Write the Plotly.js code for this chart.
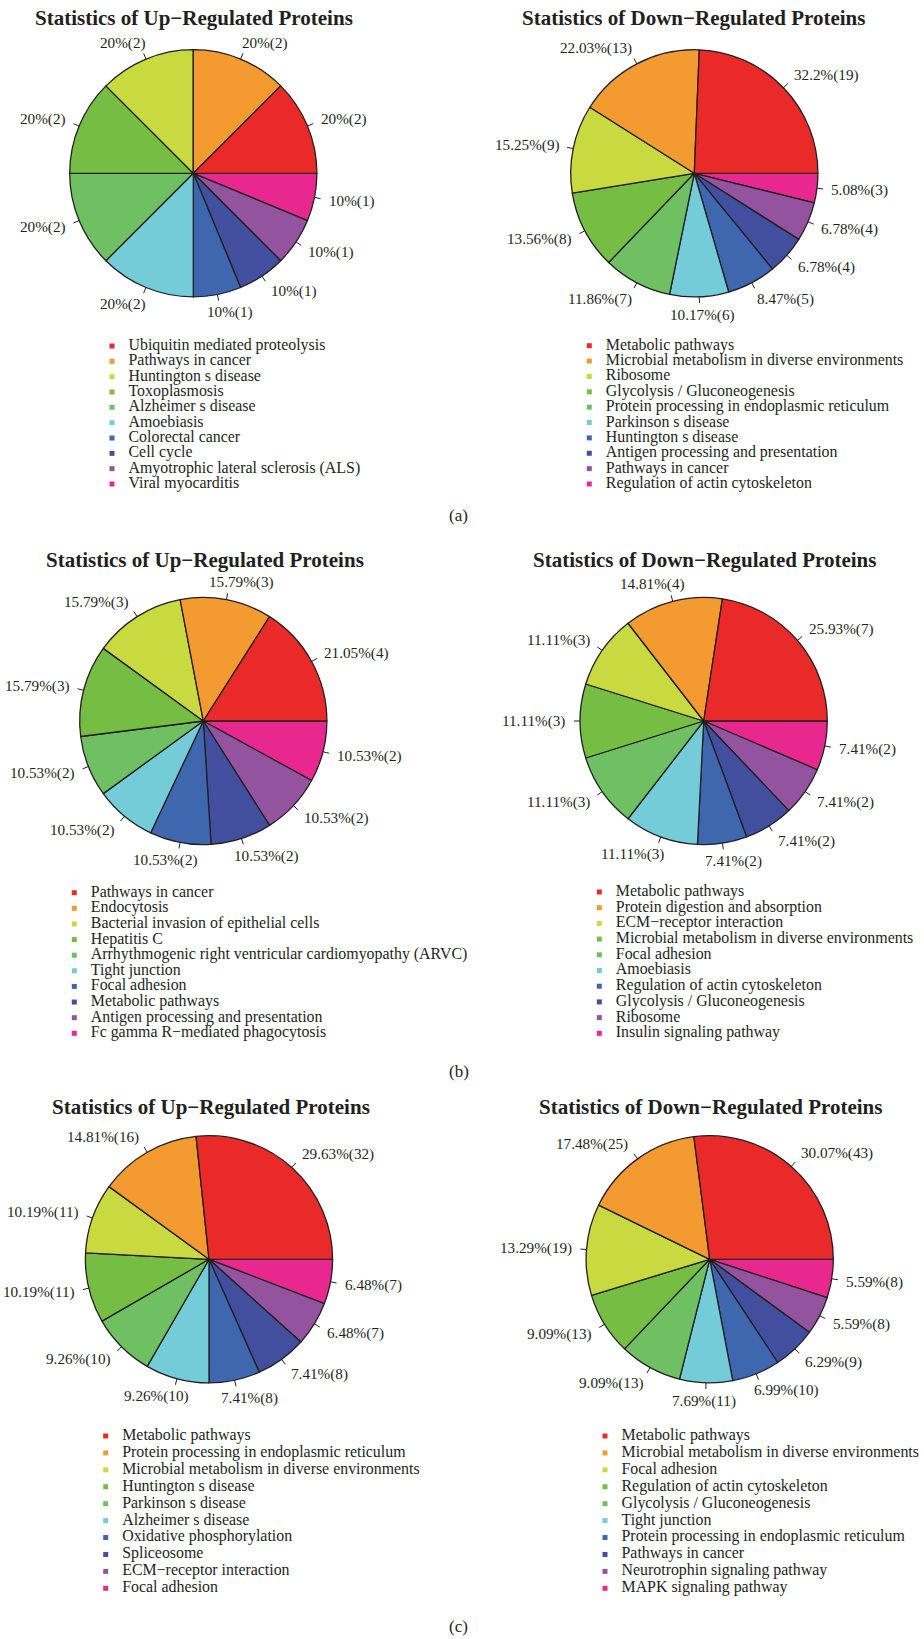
<!DOCTYPE html>
<html>
<head>
<meta charset="utf-8">
<script src="https://cdn.plot.ly/plotly-3.0.1.min.js"></script>
<style>
  html, body { margin: 0; padding: 0; background: #ffffff; }
  #chart { width: 924px; height: 1639px; }
</style>
</head>
<body>
<div id="chart"></div>
<script>
// ---------------- data ----------------
const sliceColors = ['#EA2A28', '#F39A30', '#C8DA3F', '#76BE43', '#6FC063',
                     '#73CCD8', '#3F67B0', '#424F9F', '#94539E', '#E8288E'];

// (a) up-regulated
const upA_pathways = ['Ubiquitin mediated proteolysis', 'Pathways in cancer', 'Huntington s disease',
  'Toxoplasmosis', 'Alzheimer s disease', 'Amoebiasis', 'Colorectal cancer', 'Cell cycle',
  'Amyotrophic lateral sclerosis (ALS)', 'Viral myocarditis'];
const upA_counts = [2, 2, 2, 2, 2, 2, 1, 1, 1, 1];
const upA_percent = [20, 20, 20, 20, 20, 20, 10, 10, 10, 10];

// (a) down-regulated
const downA_pathways = ['Metabolic pathways', 'Microbial metabolism in diverse environments', 'Ribosome',
  'Glycolysis / Gluconeogenesis', 'Protein processing in endoplasmic reticulum', 'Parkinson s disease',
  'Huntington s disease', 'Antigen processing and presentation', 'Pathways in cancer',
  'Regulation of actin cytoskeleton'];
const downA_counts = [19, 13, 9, 8, 7, 6, 5, 4, 4, 3];
const downA_percent = [32.2, 22.03, 15.25, 13.56, 11.86, 10.17, 8.47, 6.78, 6.78, 5.08];

// (b) up-regulated
const upB_pathways = ['Pathways in cancer', 'Endocytosis', 'Bacterial invasion of epithelial cells',
  'Hepatitis C', 'Arrhythmogenic right ventricular cardiomyopathy (ARVC)', 'Tight junction',
  'Focal adhesion', 'Metabolic pathways', 'Antigen processing and presentation',
  'Fc gamma R\u2212mediated phagocytosis'];
const upB_counts = [4, 3, 3, 3, 2, 2, 2, 2, 2, 2];
const upB_percent = [21.05, 15.79, 15.79, 15.79, 10.53, 10.53, 10.53, 10.53, 10.53, 10.53];

// (b) down-regulated
const downB_pathways = ['Metabolic pathways', 'Protein digestion and absorption', 'ECM\u2212receptor interaction',
  'Microbial metabolism in diverse environments', 'Focal adhesion', 'Amoebiasis',
  'Regulation of actin cytoskeleton', 'Glycolysis / Gluconeogenesis', 'Ribosome',
  'Insulin signaling pathway'];
const downB_counts = [7, 4, 3, 3, 3, 3, 2, 2, 2, 2];
const downB_percent = [25.93, 14.81, 11.11, 11.11, 11.11, 11.11, 7.41, 7.41, 7.41, 7.41];

// (c) up-regulated
const upC_pathways = ['Metabolic pathways', 'Protein processing in endoplasmic reticulum',
  'Microbial metabolism in diverse environments', 'Huntington s disease', 'Parkinson s disease',
  'Alzheimer s disease', 'Oxidative phosphorylation', 'Spliceosome', 'ECM\u2212receptor interaction',
  'Focal adhesion'];
const upC_counts = [32, 16, 11, 11, 10, 10, 8, 8, 7, 7];
const upC_percent = [29.63, 14.81, 10.19, 10.19, 9.26, 9.26, 7.41, 7.41, 6.48, 6.48];

// (c) down-regulated
const downC_pathways = ['Metabolic pathways', 'Microbial metabolism in diverse environments', 'Focal adhesion',
  'Regulation of actin cytoskeleton', 'Glycolysis / Gluconeogenesis', 'Tight junction',
  'Protein processing in endoplasmic reticulum', 'Pathways in cancer', 'Neurotrophin signaling pathway',
  'MAPK signaling pathway'];
const downC_counts = [43, 25, 19, 13, 13, 11, 10, 9, 8, 8];
const downC_percent = [30.07, 17.48, 13.29, 9.09, 9.09, 7.69, 6.99, 6.29, 5.59, 5.59];

const titleUp = 'Statistics of Up\u2212Regulated Proteins';
const titleDown = 'Statistics of Down\u2212Regulated Proteins';
const panelTags = ['(a)', '(b)', '(c)'];

// ---------------- page geometry (pixels) ----------------
const W = 924, H = 1639;
const R = 123.6;           // pie radius
const K = 1.25;            // overlay axes extend this many radii from the centre
const SERIF = '"Liberation Serif", "Times New Roman", serif';
const INK = '#231f20';
const LABEL_SIZE = 15.2;
const LEGEND_SIZE = 15.9;
const LEGEND_GAP = 16.5;   // square centre to start of legend text

const panels = [
  { title: titleUp,   names: upA_pathways,   counts: upA_counts,   pct: upA_percent,
    cx: 193.3, cy: 173.3, tx: 194.0, ty: 18.3, lgx: 112.0, lgy0: 346.0, lgy1: 484.0 },
  { title: titleDown, names: downA_pathways, counts: downA_counts, pct: downA_percent,
    cx: 694.3, cy: 173.3, tx: 693.5, ty: 18.3, lgx: 589.3, lgy0: 345.7, lgy1: 484.0 },
  { title: titleUp,   names: upB_pathways,   counts: upB_counts,   pct: upB_percent,
    cx: 203.3, cy: 721.0, tx: 205.2, ty: 560.5, lgx: 74.3, lgy0: 892.7, lgy1: 1033.3 },
  { title: titleDown, names: downB_pathways, counts: downB_counts, pct: downB_percent,
    cx: 703.7, cy: 721.0, tx: 704.2, ty: 560.2, lgx: 599.3, lgy0: 892.0, lgy1: 1033.3 },
  { title: titleUp,   names: upC_pathways,   counts: upC_counts,   pct: upC_percent,
    cx: 209.0, cy: 1259.3, tx: 210.8, ty: 1107.3, lgx: 105.7, lgy0: 1436.0, lgy1: 1588.3 },
  { title: titleDown, names: downC_pathways, counts: downC_counts, pct: downC_percent,
    cx: 709.7, cy: 1259.3, tx: 710.3, ty: 1107.3, lgx: 605.0, lgy0: 1436.0, lgy1: 1588.3 }
];
const tagPos = [ { x: 458.5, y: 515.0 }, { x: 458.5, y: 1071.7 }, { x: 458.5, y: 1626.0 } ];

const px = x => x / W;
const py = y => 1 - y / H;

function hiddenAxis(domain, range, anchor) {
  return { domain: domain, range: range, anchor: anchor, visible: false, fixedrange: true,
           showgrid: false, zeroline: false, autorange: false };
}

function draw() {
  const data = [];
  const annotations = [];
  const layout = {
    width: W, height: H,
    margin: { l: 0, r: 0, t: 0, b: 0 },
    paper_bgcolor: '#ffffff',
    plot_bgcolor: 'rgba(0,0,0,0)',
    showlegend: false,
    hovermode: 'closest',
    annotations: annotations
  };

  const ctx = document.createElement('canvas').getContext('2d');
  ctx.font = LABEL_SIZE + 'px "Liberation Serif"';

  panels.forEach((p, i) => {
    const n = 2 * i + 2;      // axes carrying ticks and slice labels
    const m = 2 * i + 3;      // axes carrying the key
    const xa = 'x' + n, ya = 'y' + n;
    const lx = 'x' + m, ly = 'y' + m;
    const cols = sliceColors.slice(0, p.counts.length);

    // wedges: drawn clockwise from 3 o'clock in reverse order, so the
    // first category runs counter-clockwise from 3 o'clock
    data.push({
      type: 'pie',
      values: p.counts.slice().reverse(),
      labels: p.names.slice().reverse(),
      marker: { colors: cols.slice().reverse(), line: { color: INK, width: 1.3 } },
      sort: false,
      direction: 'clockwise',
      rotation: 90,
      textinfo: 'none',
      hoverinfo: 'label+value',
      showlegend: false,
      domain: { x: [px(p.cx - R), px(p.cx + R)], y: [py(p.cy + R), py(p.cy - R)] }
    });

    // slice mid-angles (counter-clockwise from 3 o'clock)
    const total = p.counts.reduce((a, b) => a + b, 0);
    let cum = 0;
    const mids = p.counts.map(v => {
      const a = (cum + v / 2) / total * 2 * Math.PI;
      cum += v;
      return a;
    });

    // short tick marks from the rim outwards
    const tickX = [], tickY = [];
    mids.forEach(a => {
      tickX.push(Math.cos(a), 1.05 * Math.cos(a), null);
      tickY.push(Math.sin(a), 1.05 * Math.sin(a), null);
    });
    data.push({
      type: 'scatter', mode: 'lines', x: tickX, y: tickY, xaxis: xa, yaxis: ya,
      line: { color: INK, width: 1 }, hoverinfo: 'skip', cliponaxis: false
    });
    layout['xaxis' + n] = hiddenAxis([px(p.cx - K * R), px(p.cx + K * R)], [-K, K], ya);
    layout['yaxis' + n] = hiddenAxis([py(p.cy + K * R), py(p.cy - K * R)], [-K, K], xa);

    // percent(count) labels just outside the rim
    mids.forEach((a, j) => {
      const txt = p.pct[j] + '%(' + p.counts[j] + ')';
      const w = ctx.measureText(txt).width + 4;
      const c = Math.cos(a), s = Math.sin(a);
      const hadj = Math.min(1, Math.max(0, 0.5 - c));
      annotations.push({
        xref: xa, yref: ya, x: 1.1 * c, y: 1.1 * s, text: txt, showarrow: false,
        xanchor: 'left', yanchor: 'middle', xshift: -hadj * w, yshift: 5.5 * s,
        font: { family: SERIF, size: LABEL_SIZE, color: INK }
      });
    });

    // key below the pie
    const step = (p.lgy1 - p.lgy0) / (p.names.length - 1);
    const rows = p.names.map((_, j) => j);
    data.push({
      type: 'scatter', mode: 'markers', x: rows.map(() => 0), y: rows,
      xaxis: lx, yaxis: ly, marker: { symbol: 'square', size: 5, color: cols, line: { width: 0 } },
      hoverinfo: 'skip', cliponaxis: false
    });
    data.push({
      type: 'scatter', mode: 'text', x: rows.map(() => LEGEND_GAP), y: rows, text: p.names,
      textposition: 'middle right', xaxis: lx, yaxis: ly,
      textfont: { family: SERIF, size: LEGEND_SIZE, color: INK },
      hoverinfo: 'skip', cliponaxis: false
    });
    layout['xaxis' + m] = hiddenAxis([px(p.lgx - 10), px(p.lgx + 30)], [-10, 30], ly);
    layout['yaxis' + m] = hiddenAxis([py(p.lgy1 + step / 2), py(p.lgy0 - step / 2)],
                                     [rows.length - 0.5, -0.5], lx);

    // panel heading
    annotations.push({
      xref: 'paper', yref: 'paper', x: px(p.tx), y: py(p.ty), text: p.title, showarrow: false,
      xanchor: 'center', yanchor: 'middle',
      font: { family: SERIF, size: 21, color: INK, weight: 'bold' }
    });
  });

  panelTags.forEach((t, i) => {
    annotations.push({
      xref: 'paper', yref: 'paper', x: px(tagPos[i].x), y: py(tagPos[i].y), text: t,
      showarrow: false, xanchor: 'center', yanchor: 'middle',
      font: { family: SERIF, size: 17, color: INK }
    });
  });

  Plotly.newPlot('chart', data, layout, { staticPlot: true, displayModeBar: false });
}

if (document.fonts && document.fonts.load) {
  document.fonts.load('15px "Liberation Serif"').then(draw, draw);
} else {
  draw();
}
</script>
</body>
</html>
